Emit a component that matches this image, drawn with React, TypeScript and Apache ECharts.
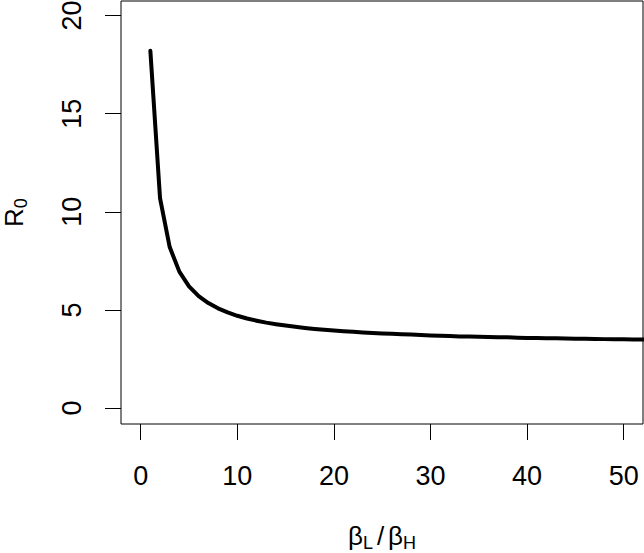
import React, { useEffect, useRef } from "react";
import * as echarts from "echarts";

// beta_L / beta_H ratio (x) and R0 (y)
const ratioValues = [
  1, 2, 3, 4, 5, 6, 7, 8, 9, 10, 11, 12, 13, 14, 15, 16, 17, 18, 19, 20, 21, 22, 23, 24, 25, 26,
  27, 28, 29, 30, 31, 32, 33, 34, 35, 36, 37, 38, 39, 40, 41, 42, 43, 44, 45, 46, 47, 48, 49, 50,
  51, 52, 53,
];
const r0Values = [
  18.2, 10.7, 8.2, 6.95, 6.2, 5.7, 5.35, 5.08, 4.87, 4.7, 4.56, 4.45, 4.35, 4.27, 4.2, 4.14, 4.08,
  4.03, 3.99, 3.95, 3.91, 3.88, 3.85, 3.82, 3.8, 3.78, 3.76, 3.74, 3.72, 3.7, 3.68, 3.67, 3.65,
  3.64, 3.63, 3.62, 3.61, 3.6, 3.58, 3.57, 3.57, 3.56, 3.55, 3.54, 3.53, 3.53, 3.52, 3.51, 3.51,
  3.5, 3.49, 3.49, 3.48,
];
const xTicks = [0, 10, 20, 30, 40, 50];
const yTicks = [0, 5, 10, 15, 20];

const FONT = "'Liberation Sans', Arial, Helvetica, sans-serif";

export default function App() {
  const ref = useRef<HTMLDivElement>(null);

  useEffect(() => {
    if (!ref.current) return;
    const chart = echarts.init(ref.current, null, { renderer: "svg" });
    const titleRich = {
      m: { fontSize: 26, fontFamily: FONT, color: "#000", lineHeight: 26, verticalAlign: "top" },
      sl: {
        fontSize: 26,
        fontFamily: FONT,
        color: "#000",
        lineHeight: 26,
        verticalAlign: "top",
        padding: [0, 4, 0, 4],
      },
      s: {
        fontSize: 18,
        fontFamily: FONT,
        color: "#000",
        lineHeight: 18,
        verticalAlign: "top",
        padding: [11, 0, 0, 0],
      },
    };
    chart.setOption({
      animation: false,
      backgroundColor: "#fff",
      grid: {
        left: 121,
        right: 1,
        top: 1,
        bottom: 129,
        show: true,
        borderColor: "#000",
        borderWidth: 1,
        backgroundColor: "transparent",
        containLabel: false,
        outerBoundsMode: "none",
      },
      xAxis: {
        type: "value",
        min: -2.04,
        max: 52,
        splitLine: { show: false },
        axisLine: { show: false, onZero: false },
        axisTick: {
          show: true,
          customValues: xTicks,
          length: 16,
          inside: false,
          lineStyle: { color: "#000", width: 1 },
        },
        axisLabel: {
          customValues: xTicks,
          margin: 38,
          fontSize: 27,
          color: "#000",
          fontFamily: FONT,
        },
        name: "{m|β}{s|L}{sl|/}{m|β}{s|H}",
        nameLocation: "middle",
        nameGap: 99,
        nameTextStyle: { rich: titleRich },
      },
      yAxis: {
        type: "value",
        min: -0.815,
        max: 20.74,
        splitLine: { show: false },
        axisLine: { show: false, onZero: false },
        axisTick: {
          show: true,
          customValues: yTicks,
          length: 16,
          inside: false,
          lineStyle: { color: "#000", width: 1 },
        },
        axisLabel: {
          customValues: yTicks,
          margin: 36,
          rotate: 90,
          fontSize: 27,
          color: "#000",
          fontFamily: FONT,
        },
        name: "{m|R}{s|0}",
        nameLocation: "middle",
        nameRotate: 90,
        nameGap: 94,
        nameTextStyle: { rich: titleRich },
      },
      series: [
        {
          type: "line",
          data: ratioValues.map((x, i) => [x, r0Values[i]]),
          showSymbol: false,
          symbol: "none",
          smooth: false,
          clip: true,
          lineStyle: { color: "#000", width: 4, cap: "round", join: "round" },
        },
      ],
    });
    return () => chart.dispose();
  }, []);

  return (
    <div
      ref={ref}
      style={{ position: "fixed", left: 0, top: 0, width: 644, height: 553, background: "#fff" }}
    />
  );
}
